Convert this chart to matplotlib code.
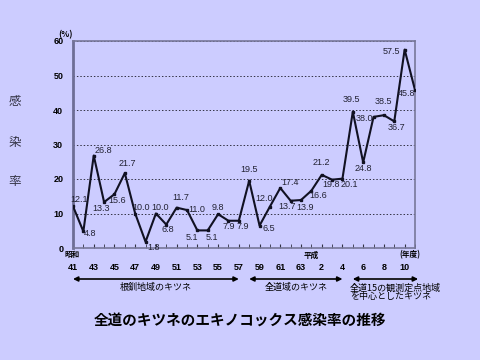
import numpy as np
import matplotlib
matplotlib.use("Agg")
import matplotlib.pyplot as plt
from matplotlib.transforms import blended_transform_factory

plt.rcParams['font.family'] = ['Liberation Sans Narrow', 'Liberation Sans', 'Noto Sans CJK JP', 'DejaVu Sans']
JP = ['Noto Sans CJK JP', 'DejaVu Sans']

# fiscal years: Showa 41 .. 63, Heisei 1 .. 11
years = list(range(41, 64)) + list(range(1, 12))
rate = [12.1, 4.8, 26.8, 13.3, 15.6, 21.7, 10.0, 1.8, 10.0, 6.8, 11.7, 11.0,
        5.1, 5.1, 9.8, 7.9, 7.9, 19.5, 6.5, 12.0, 17.4, 13.7, 13.9, 16.6,
        21.2, 19.8, 20.1, 39.5, 24.8, 38.0, 38.5, 36.7, 57.5, 45.8]
tick_labels = [str(y) for y in years[::2]]
periods = ['根釧地域のキツネ', '全道域のキツネ', '全道15の観測定点地域\nを中心としたキツネ']

# label offsets in pixels (dx, dy)
offs = [(6, 7), (7, -2), (10, 5), (-3, -6), (3, -6), (2, 10), (6, 6), (8, -6),
        (4, 6), (2, -5), (4, 10), (10, 1), (-5, -7), (4, -7), (0, 7), (0, -6),
        (4, -6), (0, 11), (9, -3), (-6, 8), (10, 5), (-4, -6), (4, -7), (7, -5),
        (0, 12), (-1, -5), (7, -6), (-1, 12), (0, -6), (-9, -2), (-1, 14),
        (2, -6), (-13, -2), (-8, -4)]

bg = '#ccccff'
fig = plt.figure(figsize=(4.8, 3.6), dpi=100, facecolor=bg)
ax = fig.add_axes([73/480, 1-248/360, 342/480, 207/360])
ax.set_facecolor(bg)

x = np.arange(len(rate))
ax.plot(x, rate, color='#111122', lw=1.5, marker='s', ms=2, zorder=3)
for xi, v, (dx, dy) in zip(x, rate, offs):
    ax.annotate(f'{v:.1f}', (xi, v), xytext=(dx, dy), textcoords='offset pixels',
                ha='center', va='center', fontsize=6.5, color='#222233')

ax.set_xlim(0, len(rate)-1)
ax.set_ylim(0, 60)
ax.set_yticks(range(0, 61, 10))
ax.set_yticklabels([str(v) for v in range(0, 61, 10)], fontweight='bold', fontsize=6.5)
ax.tick_params(axis='y', length=0, pad=7)
ax.set_xticks(x[::2])
ax.set_xticklabels(tick_labels, fontweight='bold', fontsize=6.5)
ax.set_xticks(x, minor=True)
ax.tick_params(axis='x', which='both', direction='in', length=3, color='#333344', pad=11)
ax.grid(axis='y', color='#333344', ls=(0, (1.5, 2)), lw=0.7)
for s in ['top', 'right', 'bottom']:
    ax.spines[s].set_color('#777799')
    ax.spines[s].set_linewidth(1.2)
ax.spines['left'].set_color('#6e6e96')
ax.spines['left'].set_linewidth(2)

# axis annotations
ax.text(0, 60.5, '(%)', ha='right', va='bottom', fontsize=6,
        fontweight='bold', family=JP)
for ch, yy in zip('感染率', [101, 143, 181]):
    fig.text(15/480, 1-yy/360, ch, ha='center', va='center', fontsize=9,
             family=JP, color='#333344')
fig.text(72/480, 1-255/360, '昭和', ha='center', va='center', fontsize=5.5,
         fontweight='bold', family=JP)
fig.text(311/480, 1-255/360, '平成', ha='center', va='center', fontsize=5.5,
         fontweight='bold', family=JP)
fig.text(410/480, 1-255/360, '(年度)', ha='center', va='center', fontsize=5.5,
         fontweight='bold', family=JP)

# period arrows
spans = [(0, 16), (17, 26), (27, 33.3)]
ay = 1-279/360
trans = blended_transform_factory(ax.transData, fig.transFigure)
for (a, b), lab in zip(spans, periods):
    ax.annotate('', xy=(a, ay), xytext=(b, ay), xycoords=('data', 'figure fraction'),
                textcoords=('data', 'figure fraction'),
                arrowprops=dict(arrowstyle='<|-|>', color='black', lw=1.2,
                                mutation_scale=7, shrinkA=0, shrinkB=0),
                annotation_clip=False)
    if '\n' in lab:
        ax.text(a - 0.3, 1-283/360, lab, transform=trans, ha='left', va='top',
                fontsize=6.5, family=JP, linespacing=0.95)
    else:
        ax.text((a+b)/2, 1-287/360, lab, transform=trans, ha='center', va='center',
                fontsize=6.5, family=JP)

fig.text(240/480, 1-320/360, '全道のキツネのエキノコックス感染率の推移', ha='center',
         va='center', fontsize=10.5, fontweight='bold', family=JP)

fig.savefig('out.png', dpi=100, facecolor=bg)
